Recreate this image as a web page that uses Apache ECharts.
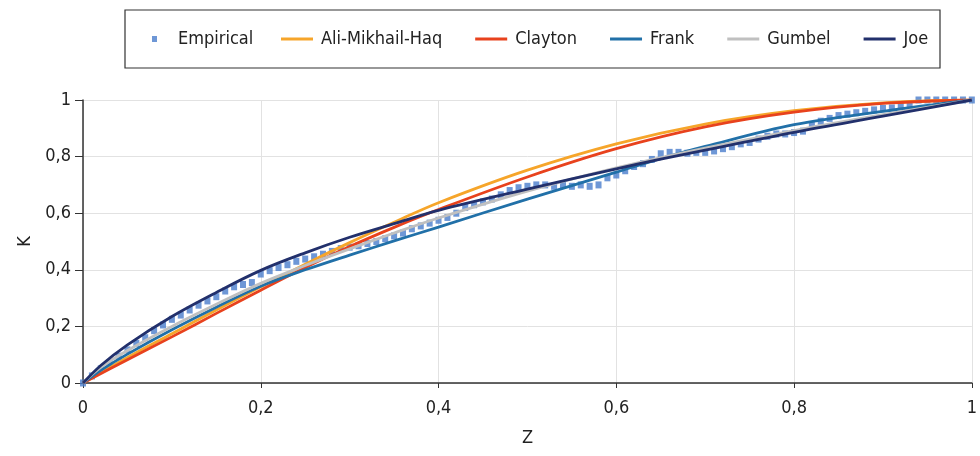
<!DOCTYPE html>
<html>
<head>
<meta charset="utf-8">
<script src="https://cdn.jsdelivr.net/npm/echarts@6/dist/echarts.min.js"></script>
<style>
  html, body { margin: 0; padding: 0; background: #fff; }
  #chart { width: 980px; height: 456px; }
</style>
</head>
<body>
<div id="chart"></div>
<script>
// Kendall distribution: empirical estimate vs. fitted Archimedean copulas
const seriesNames = ['Empirical', 'Ali-Mikhail-Haq', 'Clayton', 'Frank', 'Gumbel', 'Joe'];
const tickLabels = ['0', '0,2', '0,4', '0,6', '0,8', '1'];

// Empirical K(z), sampled every 0.01
const empiricalZ = [
  0.00, 0.01, 0.02, 0.03, 0.04, 0.05, 0.06, 0.07, 0.08, 0.09,
  0.10, 0.11, 0.12, 0.13, 0.14, 0.15, 0.16, 0.17, 0.18, 0.19,
  0.20, 0.21, 0.22, 0.23, 0.24, 0.25, 0.26, 0.27, 0.28, 0.29,
  0.30, 0.31, 0.32, 0.33, 0.34, 0.35, 0.36, 0.37, 0.38, 0.39,
  0.40, 0.41, 0.42, 0.43, 0.44, 0.45, 0.46, 0.47, 0.48, 0.49,
  0.50, 0.51, 0.52, 0.53, 0.54, 0.55, 0.56, 0.57, 0.58, 0.59,
  0.60, 0.61, 0.62, 0.63, 0.64, 0.65, 0.66, 0.67, 0.68, 0.69,
  0.70, 0.71, 0.72, 0.73, 0.74, 0.75, 0.76, 0.77, 0.78, 0.79,
  0.80, 0.81, 0.82, 0.83, 0.84, 0.85, 0.86, 0.87, 0.88, 0.89,
  0.90, 0.91, 0.92, 0.93, 0.94, 0.95, 0.96, 0.97, 0.98, 0.99, 1.00
];
const empiricalK = [
  0.000, 0.025, 0.050, 0.072, 0.095, 0.117, 0.140, 0.160, 0.185, 0.205,
  0.225, 0.240, 0.258, 0.275, 0.290, 0.305, 0.325, 0.340, 0.348, 0.355,
  0.385, 0.397, 0.408, 0.418, 0.430, 0.438, 0.446, 0.455, 0.465, 0.475,
  0.480, 0.485, 0.493, 0.500, 0.510, 0.520, 0.530, 0.545, 0.555, 0.565,
  0.575, 0.585, 0.600, 0.620, 0.630, 0.640, 0.650, 0.665, 0.680, 0.690,
  0.695, 0.700, 0.700, 0.695, 0.700, 0.695, 0.700, 0.695, 0.700, 0.725,
  0.735, 0.750, 0.765, 0.775, 0.790, 0.810, 0.815, 0.815, 0.812, 0.815,
  0.815, 0.820, 0.828, 0.835, 0.845, 0.850, 0.862, 0.872, 0.880, 0.880,
  0.885, 0.890, 0.910, 0.925, 0.935, 0.945, 0.950, 0.955, 0.960, 0.965,
  0.970, 0.972, 0.978, 0.985, 1.000, 1.000, 1.000, 1.000, 1.000, 1.000, 1.000
];

// Fitted curves
const amhZ = [0, 0.05, 0.1, 0.15, 0.2, 0.25, 0.3, 0.35, 0.4, 0.5, 0.6, 0.7, 0.8, 0.9, 1];
const amhK = [0, 0.090, 0.174, 0.258, 0.340, 0.420, 0.496, 0.568, 0.637, 0.752, 0.845, 0.915, 0.962, 0.990, 1];

const claytonZ = [0, 0.05, 0.1, 0.15, 0.2, 0.25, 0.3, 0.35, 0.4, 0.5, 0.6, 0.7, 0.8, 0.9, 1];
const claytonK = [0, 0.082, 0.163, 0.246, 0.328, 0.408, 0.482, 0.550, 0.613, 0.728, 0.828, 0.905, 0.957, 0.988, 1];

const frankZ = [0, 0.02, 0.05, 0.1, 0.15, 0.2, 0.25, 0.3, 0.35, 0.4, 0.5, 0.6, 0.65, 0.7, 0.8, 0.9, 1];
const frankK = [0, 0.045, 0.102, 0.188, 0.268, 0.342, 0.400, 0.452, 0.502, 0.551, 0.650, 0.745, 0.793, 0.836, 0.913, 0.960, 1];

const gumbelZ = [0, 0.02, 0.05, 0.1, 0.15, 0.2, 0.25, 0.3, 0.35, 0.4, 0.5, 0.6, 0.7, 0.8, 0.9, 1];
const gumbelK = [0, 0.055, 0.115, 0.200, 0.278, 0.352, 0.415, 0.474, 0.530, 0.583, 0.678, 0.760, 0.830, 0.892, 0.948, 1];

const joeZ = [0, 0.02, 0.05, 0.1, 0.15, 0.2, 0.25, 0.3, 0.35, 0.4, 0.5, 0.6, 0.65, 0.7, 0.8, 0.9, 1];
const joeK = [0, 0.062, 0.135, 0.235, 0.320, 0.398, 0.460, 0.515, 0.563, 0.610, 0.685, 0.757, 0.791, 0.823, 0.886, 0.943, 1];

const colors = {
  'Empirical': '#4a7dcc',
  'Ali-Mikhail-Haq': '#f6a52a',
  'Clayton': '#e8421d',
  'Frank': '#2170a8',
  'Gumbel': '#c0c0c0',
  'Joe': '#22306c'
};

const FONT = "'DejaVu Sans Condensed', 'Liberation Sans Narrow', 'DejaVu Sans', sans-serif";
const zip = (xs, ys) => xs.map((x, i) => [x, ys[i]]);

function curve(name, xs, ys) {
  return {
    name: name,
    type: 'line',
    data: zip(xs, ys),
    smooth: 0.35,
    showSymbol: false,
    symbol: 'none',
    lineStyle: { color: colors[name], width: 2.8 },
    itemStyle: { color: colors[name] },
    z: 3
  };
}

const chart = echarts.init(document.getElementById('chart'), null, { renderer: 'canvas' });

chart.setOption({
  animation: false,
  backgroundColor: '#ffffff',
  textStyle: { fontFamily: FONT },
  graphic: [{
    type: 'rect',
    shape: { x: 125, y: 10, width: 815, height: 58 },
    style: { fill: 'none', stroke: '#333', lineWidth: 1.2 },
    silent: true
  }],
  legend: [{
    data: ['Empirical'],
    left: 147,
    top: 25,
    itemWidth: 5,
    itemHeight: 6,
    icon: 'rect',
    itemGap: 32,
    textStyle: { fontFamily: FONT, fontSize: 18, color: '#222', padding: [0, 0, 0, 16] }
  }, {
    data: seriesNames.slice(1),
    left: 276,
    top: 25,
    itemWidth: 32,
    itemHeight: 3,
    icon: 'rect',
    itemGap: 33,
    textStyle: { fontFamily: FONT, fontSize: 18, color: '#222', padding: [0, 0, 0, 3] }
  }],
  grid: { left: 83, right: 5, top: 100, bottom: 73, containLabel: false },
  xAxis: {
    type: 'value',
    min: 0, max: 1, interval: 0.2,
    name: 'Z',
    nameLocation: 'middle',
    nameGap: 46,
    nameTextStyle: { fontFamily: FONT, fontSize: 18, color: '#222' },
    axisLine: { show: true, lineStyle: { color: '#333', width: 1.5 } },
    axisTick: { show: true, length: 5, lineStyle: { color: '#333' } },
    axisLabel: {
      margin: 16,
      fontFamily: FONT, fontSize: 18, color: '#222',
      formatter: v => tickLabels[Math.round(v / 0.2)]
    },
    splitLine: { show: true, lineStyle: { color: '#e2e2e2', width: 1 } }
  },
  yAxis: {
    type: 'value',
    min: 0, max: 1, interval: 0.2,
    name: 'K',
    nameLocation: 'middle',
    nameGap: 42,
    nameRotate: 90,
    nameTextStyle: { fontFamily: FONT, fontSize: 18, color: '#222' },
    axisLine: { show: true, lineStyle: { color: '#333', width: 1.5 } },
    axisTick: { show: true, length: 8, lineStyle: { color: '#333' } },
    axisLabel: {
      margin: 12,
      fontFamily: FONT, fontSize: 18, color: '#222',
      formatter: v => tickLabels[Math.round(v / 0.2)]
    },
    splitLine: { show: true, lineStyle: { color: '#e2e2e2', width: 1 } }
  },
  series: [
    {
      name: 'Empirical',
      type: 'scatter',
      data: zip(empiricalZ, empiricalK),
      symbol: 'rect',
      symbolSize: [6, 7],
      itemStyle: { color: colors['Empirical'] },
      z: 2
    },
    curve('Ali-Mikhail-Haq', amhZ, amhK),
    curve('Clayton', claytonZ, claytonK),
    curve('Frank', frankZ, frankK),
    curve('Gumbel', gumbelZ, gumbelK),
    curve('Joe', joeZ, joeK)
  ]
});
</script>
</body>
</html>
